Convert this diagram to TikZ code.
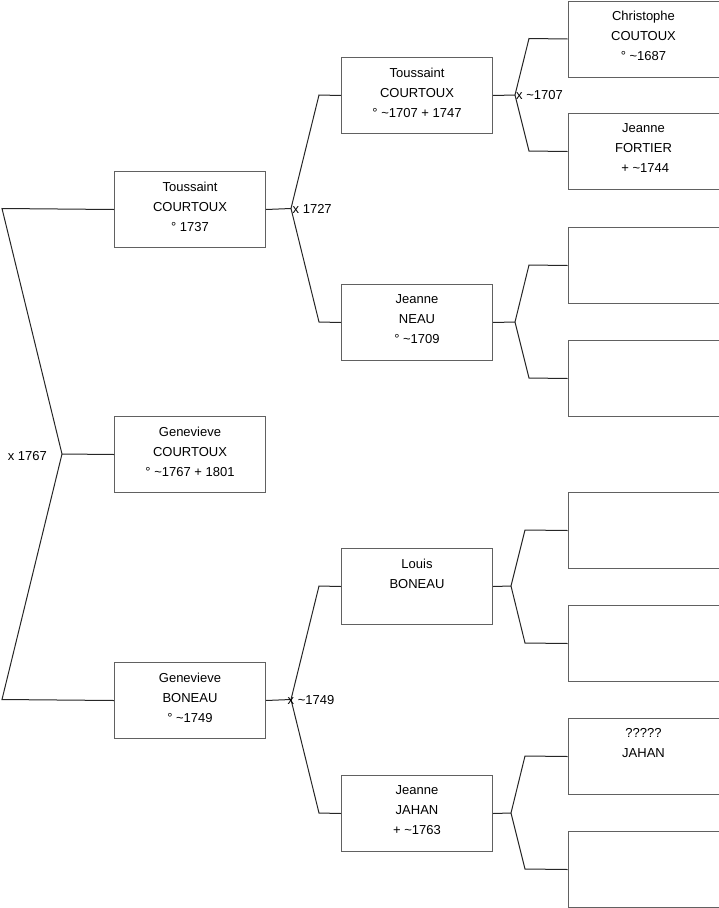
\documentclass[tikz,border=0pt]{standalone}
\usepackage{fontspec}
\setmainfont{Liberation Sans}
\begin{document}
\begin{tikzpicture}[x=1pt,y=-1pt,
  pbox/.style={draw=black!62, line width=1pt, minimum width=151pt, minimum height=76pt, inner sep=0pt, anchor=north west},
  ptext/.style={anchor=north, align=center, inner sep=0pt, font=\fontsize{13}{20}\selectfont},
  conn/.style={draw=black!85, line width=1pt},
  mlabel/.style={inner sep=0pt, font=\fontsize{13}{15}\selectfont}]
\useasboundingbox (0,0) rectangle (719,908);
% generation 1
\node[pbox] (g1) at (114,171) {};
\node[pbox] (g2) at (114,416) {};
\node[pbox] (g3) at (114,662) {};
% generation 2
\node[pbox] (p1) at (341,57) {};
\node[pbox] (p2) at (341,284) {};
\node[pbox] (p3) at (341,548) {};
\node[pbox] (p4) at (341,775) {};
% generation 3
\node[pbox] (q1) at (567.5,0.5) {};
\node[pbox] (q2) at (567.5,113) {};
\node[pbox] (q3) at (567.5,227) {};
\node[pbox] (q4) at (567.5,340) {};
\node[pbox] (q5) at (567.5,492) {};
\node[pbox] (q6) at (567.5,605) {};
\node[pbox] (q7) at (567.5,718) {};
\node[pbox] (q8) at (567.5,831) {};
% texts
\node[ptext] (tg1) at ([yshift=-10.5pt]g1.north) {Toussaint\\COURTOUX\\° 1737};
\node[ptext] (tg2) at ([yshift=-10.5pt]g2.north) {Genevieve\\COURTOUX\\° \textasciitilde1767 + 1801};
\node[ptext] (tg3) at ([yshift=-10.5pt]g3.north) {Genevieve\\BONEAU\\° \textasciitilde1749};
\node[ptext] (tp1) at ([yshift=-10.5pt]p1.north) {Toussaint\\COURTOUX\\° \textasciitilde1707 + 1747};
\node[ptext] (tp2) at ([yshift=-10.5pt]p2.north) {Jeanne\\NEAU\\° \textasciitilde1709};
\node[ptext] (tp3) at ([yshift=-10.5pt]p3.north) {Louis\\BONEAU};
\node[ptext] (tp4) at ([yshift=-10.5pt]p4.north) {Jeanne\\JAHAN\\+ \textasciitilde1763};
\node[ptext] (tq1) at ([yshift=-10.5pt]q1.north) {Christophe\\COUTOUX\\° \textasciitilde1687};
\node[ptext] (tq2) at ([yshift=-10.5pt]q2.north) {Jeanne\\FORTIER\\\ + \textasciitilde1744};
\node[ptext] (tq7) at ([yshift=-10.5pt]q7.north) {?????\\JAHAN};
% fork coordinates
\coordinate (f0) at (62,454);
\coordinate (e0a) at (2,208.5);
\coordinate (e0b) at (2,699.5);
\coordinate (f1) at (291,208.5);
\coordinate (e1a) at (319,95);
\coordinate (e1b) at (319,322);
\coordinate (f3) at (291,699.5);
\coordinate (e3a) at (319,586);
\coordinate (e3b) at (319,813);
\coordinate (fp1) at (515,95);
\coordinate (ep1a) at (529,38.5);
\coordinate (ep1b) at (529,151);
\coordinate (fp2) at (515,322);
\coordinate (ep2a) at (529,265);
\coordinate (ep2b) at (529,378);
\coordinate (fp3) at (511,586);
\coordinate (ep3a) at (525,530);
\coordinate (ep3b) at (525,643);
\coordinate (fp4) at (511,813);
\coordinate (ep4a) at (525,756);
\coordinate (ep4b) at (525,869);
% connectors
\draw[conn] (g2.west) -- (f0);
\draw[conn] (g1.west) -- (e0a) -- (f0) -- (e0b) -- (g3.west);
\draw[conn] (g1.east) -- (f1);
\draw[conn] (p1.west) -- (e1a) -- (f1) -- (e1b) -- (p2.west);
\draw[conn] (g3.east) -- (f3);
\draw[conn] (p3.west) -- (e3a) -- (f3) -- (e3b) -- (p4.west);
\draw[conn] (p1.east) -- (fp1);
\draw[conn] (q1.west) -- (ep1a) -- (fp1) -- (ep1b) -- (q2.west);
\draw[conn] (p2.east) -- (fp2);
\draw[conn] (q3.west) -- (ep2a) -- (fp2) -- (ep2b) -- (q4.west);
\draw[conn] (p3.east) -- (fp3);
\draw[conn] (q5.west) -- (ep3a) -- (fp3) -- (ep3b) -- (q6.west);
\draw[conn] (p4.east) -- (fp4);
\draw[conn] (q7.west) -- (ep4a) -- (fp4) -- (ep4b) -- (q8.west);
% marriage labels
\node[mlabel, anchor=east] (m0) at ([xshift=-15pt,yshift=-2pt]f0) {x 1767};
\node[mlabel, anchor=west] (m1) at ([xshift=1.5pt]f1) {x 1727};
\node[mlabel, anchor=west] (m2) at ([xshift=1pt]fp1) {x \textasciitilde1707};
\node[mlabel, anchor=west] (m3) at ([xshift=-3.5pt,yshift=-1pt]f3) {x \textasciitilde1749};
\end{tikzpicture}
\end{document}
